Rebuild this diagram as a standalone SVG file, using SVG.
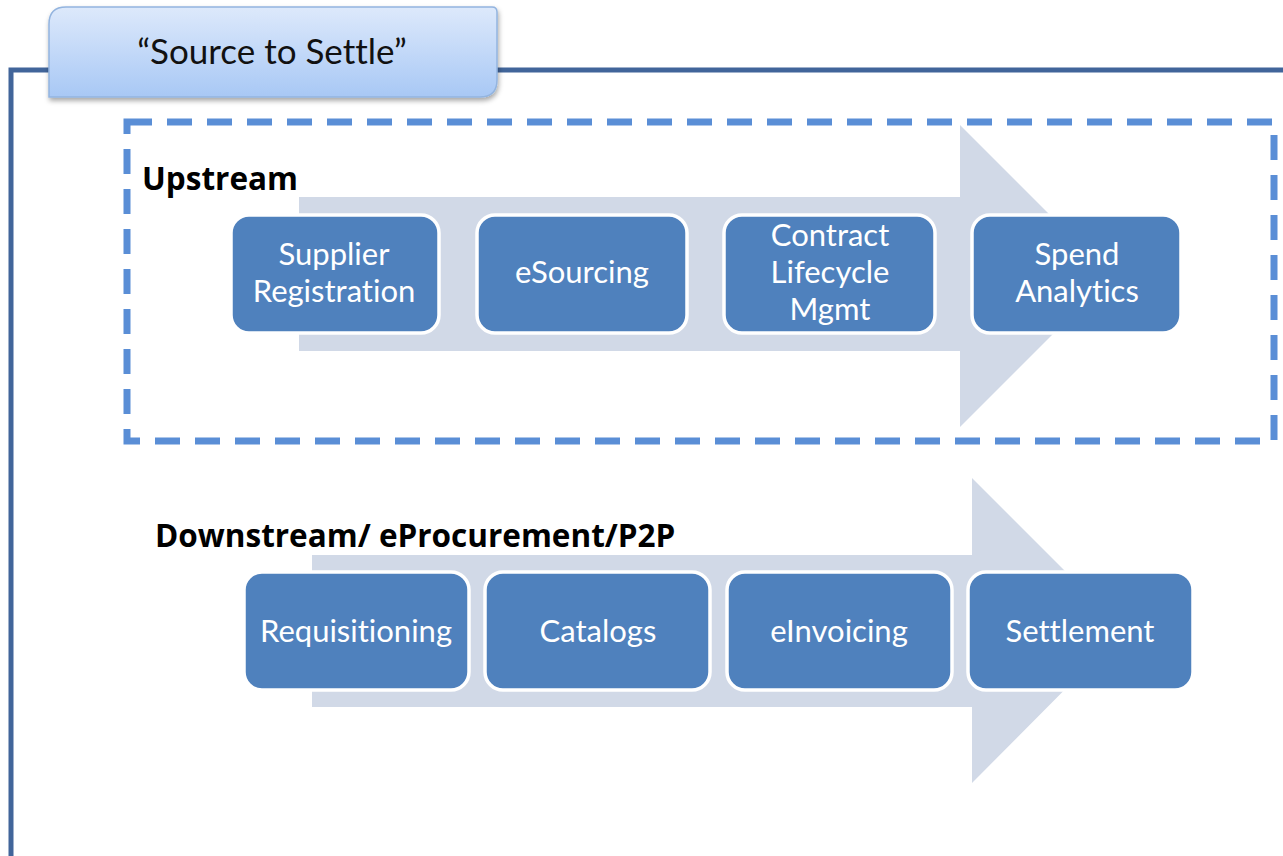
<svg xmlns="http://www.w3.org/2000/svg" width="1283" height="856" viewBox="0 0 1283 856">
  <style>
    text { font-variant-ligatures: none; font-feature-settings: "liga" 0, "clig" 0; }
    .frame { fill: none; stroke: #41659a; stroke-width: 5; }
    .dash { fill: none; stroke: #5a8ed6; stroke-width: 7; stroke-dasharray: 25 15; }
    .flow { fill: #d1d9e7; }
    .node rect { fill: #4f81bd; stroke: #ffffff; stroke-width: 3.5; }
    .node text { fill: #ffffff; font-family: Lato, "Open Sans", "Liberation Sans", sans-serif; font-size: 31px; text-anchor: middle; }
    .section { fill: #000000; font-family: "Open Sans", Lato, "Liberation Sans", sans-serif; font-weight: bold; font-size: 31.5px; }
    .tab-text { fill: #111111; font-family: Lato, "Open Sans", "Liberation Sans", sans-serif; font-size: 35px; text-anchor: middle; }
  </style>
  <defs>
    <linearGradient id="tabFill" x1="0" y1="0" x2="0" y2="1">
      <stop offset="0" stop-color="#dde9fb"/>
      <stop offset="1" stop-color="#a8c8f5"/>
    </linearGradient>
    <filter id="tabShadow" x="-5%" y="-10%" width="110%" height="130%">
      <feDropShadow dx="1" dy="3" stdDeviation="2.5" flood-color="#000000" flood-opacity="0.35"/>
    </filter>
  </defs>

  <rect width="1283" height="856" fill="#ffffff"/>

  <!-- outer frame -->
  <path class="frame" d="M11 856 V70 H1283"/>

  <!-- title tab -->
  <g id="title-tab">
    <path d="M66 7 H492 Q497 7 497 12 V80 Q497 97 480 97 H49 V24 Q49 7 66 7 Z" fill="url(#tabFill)" stroke="#93b4df" stroke-width="1.5" filter="url(#tabShadow)"/>
    <text class="tab-text" x="272" y="64">“Source to Settle”</text>
  </g>

  <!-- upstream group boundary -->
  <rect class="dash" x="127" y="122" width="1147" height="319"/>

  <!-- flow arrows -->
  <g id="connectors">
    <path class="flow" d="M299 197 H960 V125 L1111 276 L960 427 V351 H299 Z"/>
    <path class="flow" d="M312 555 H972 V478 L1124 630 L972 783 V707 H312 Z"/>
  </g>

  <text id="label-upstream" class="section" x="142" y="190">Upstream</text>
  <text id="label-downstream" class="section" x="155" y="547">Downstream/ eProcurement/P2P</text>

  <!-- upstream steps -->
  <g id="node-supplier-registration" class="node">
    <rect x="231" y="215" width="208" height="118" rx="18"/>
    <text x="334" y="265">Supplier</text>
    <text x="334" y="302">Registration</text>
  </g>
  <g id="node-esourcing" class="node">
    <rect x="477" y="215" width="210" height="118" rx="18"/>
    <text x="582" y="283">eSourcing</text>
  </g>
  <g id="node-contract-lifecycle" class="node">
    <rect x="724" y="215" width="211" height="118" rx="18"/>
    <text x="830" y="246">Contract</text>
    <text x="830" y="283">Lifecycle</text>
    <text x="830" y="320">Mgmt</text>
  </g>
  <g id="node-spend-analytics" class="node">
    <rect x="972" y="215" width="209" height="118" rx="18"/>
    <text x="1077" y="265">Spend</text>
    <text x="1077" y="302">Analytics</text>
  </g>

  <!-- downstream steps -->
  <g id="node-requisitioning" class="node">
    <rect x="244" y="572" width="225" height="118" rx="18"/>
    <text x="356" y="642">Requisitioning</text>
  </g>
  <g id="node-catalogs" class="node">
    <rect x="485" y="572" width="225" height="118" rx="18"/>
    <text x="598" y="642">Catalogs</text>
  </g>
  <g id="node-einvoicing" class="node">
    <rect x="727" y="572" width="225" height="118" rx="18"/>
    <text x="839" y="642">eInvoicing</text>
  </g>
  <g id="node-settlement" class="node">
    <rect x="968" y="572" width="225" height="118" rx="18"/>
    <text x="1080" y="642">Settlement</text>
  </g>
</svg>
